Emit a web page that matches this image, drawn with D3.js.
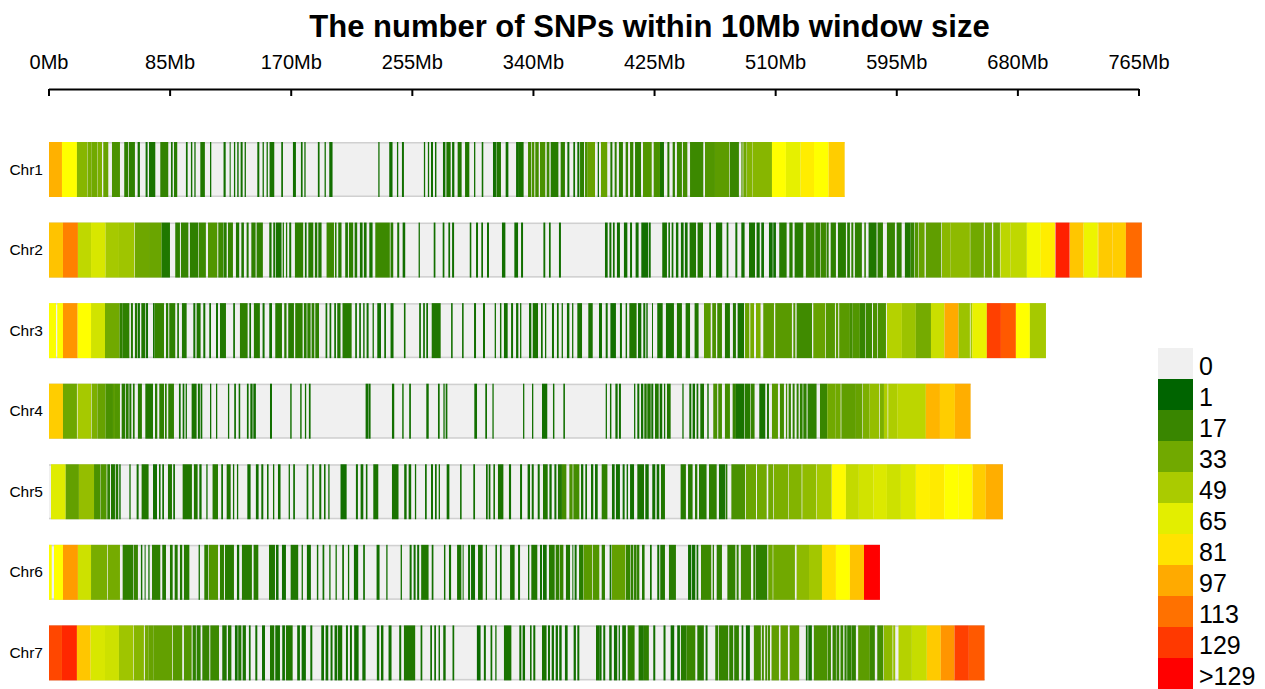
<!DOCTYPE html>
<html><head><meta charset="utf-8">
<script src="https://cdn.jsdelivr.net/npm/d3@7/dist/d3.min.js"></script>
<style>html,body{margin:0;padding:0;background:#fff}svg{display:block}text{font-family:"Liberation Sans",Arial,sans-serif;fill:#000}</style>
</head><body><svg id="c" width="1265" height="689"></svg>
<script>
const chartTitle="The number of SNPs within 10Mb window size";
const chromosomes=["Chr1","Chr2","Chr3","Chr4","Chr5","Chr6","Chr7"];
const chrLengths=[558.4,767,699.7,646.8,669.5,583.2,656.6];
const tickValues=[0,85,170,255,340,425,510,595,680,765];
const legendLabels=["0","1","17","33","49","65","81","97","113","129",">129"];
const legendCounts=[0,1,17,33,49,65,81,97,113,129,145];
// Each entry: [start Mb, end Mb, SNP count]
const chr1=[[0,9.1,95],[9.1,19.6,73],[19.6,26.9,39],[27.1,29.9,35],[29.9,33.9,33],[34.1,37.2,36],[38.1,41.6,30],[44.2,49.8,22],[52.8,55.6,14],[56.1,60.3,14],[62.2,63.8,8],[67.8,69.2,6],[70.2,74.6,8],[78.1,83.7,15],[85.6,86.8,8],[87.7,90,12],[96.1,97.3,6],[99.6,100.6,6],[102,102.9,6],[106.2,109.4,10],[113,113.9,6],[122.5,124,6],[126.8,127.5,6],[129.8,130.7,6],[132.1,133.1,6],[134.5,135.9,6],[137.3,138.2,6],[146.2,147.6,6],[149.9,150.8,6],[152.7,153.6,6],[154.8,158.1,8],[163,164.2,6],[171.2,173.3,6],[176.8,178,6],[179.2,180.1,6],[188.7,189.9,6],[193.4,194.3,6],[196.7,199,6],[231.1,232,6],[238.8,241.1,6],[244.2,245.1,6],[247.7,249.1,6],[263.1,264,6],[265.9,266.8,6],[268.1,269.5,6],[270.9,271.9,6],[276.5,278.2,6],[278.9,281.9,10],[282.9,284.5,6],[286.8,289.6,10],[292,295,10],[298.3,299.2,6],[303.7,304.8,6],[311.6,313.7,6],[314,317.2,10],[320.5,322.4,6],[327.8,329.2,6],[329.2,333.1,8],[336.2,338.5,20],[339,340.6,22],[341.3,343.7,20],[344.6,348.3,22],[349.3,351.2,18],[352.1,357.5,12],[359.1,362.1,14],[363.8,365.2,6],[368,369.2,6],[370.8,372.2,6],[372.7,375.5,14],[376.2,378.1,22],[378.1,383.2,30],[385.1,386,6],[387.4,391.8,30],[394,395.4,10],[397,398.4,14],[400,402.8,14],[404.7,406.4,16],[407.8,410.1,16],[411.3,415.5,14],[416.9,423,24],[424.4,428.8,22],[428.8,431.6,8],[434,435.4,12],[437.7,439.3,14],[440.7,444.2,18],[444.9,448,20],[449.9,459.2,18],[460.4,467.4,24],[467.4,477.5,27],[477.9,484.2,17],[485.9,486.8,25],[487.3,489.6,32],[489.9,493.6,38],[493.8,507.4,39],[507.4,517.2,73],[517.2,527.5,66],[527.5,536.9,78],[536.9,547.2,73],[547.2,558.4,87]];
const chr2=[[0,9.8,90],[9.8,20.3,109],[20.3,29.5,55],[29.5,39.7,62],[39.7,49.1,48],[49.1,59.9,46],[60.3,70.2,32],[70.2,79,31],[79,84.9,10],[88.6,91.9,14],[92.6,97.8,16],[98.9,104.8,14],[105.2,110.1,18],[111.6,118.1,24],[118.8,122.3,18],[122.5,124.7,12],[125.6,129.1,16],[131.2,133.5,10],[135,136.8,10],[138.7,140.1,10],[142,145,14],[145.7,150.1,14],[154.6,156.2,8],[157.4,158.8,8],[159.3,163.2,8],[164,164.9,10],[166.3,167.2,10],[168.6,170,8],[172.6,178.4,14],[179.6,180.8,6],[182,185.5,12],[186.6,188.3,10],[189,191.3,10],[194.8,200,18],[200.7,201.8,12],[203,205.3,12],[207.9,209.8,10],[210.5,213.5,14],[214.5,216.3,10],[218.2,220.1,8],[221,222.9,8],[224.8,227.1,8],[229,239.2,18],[239.7,241.6,12],[244.4,245.8,8],[248.2,250,6],[259.4,260.3,6],[270,271.2,6],[276.3,277.5,6],[280.3,281.5,6],[282.9,284.3,6],[295.3,296.4,6],[299.7,301.1,6],[303.4,304.6,6],[307.4,308.8,6],[317.9,320.3,6],[326.6,329.2,6],[331.3,332.7,6],[347,348.3,6],[350.9,352.1,6],[357.9,359.3,6],[390.2,392.1,6],[393.3,394.7,6],[395.8,397,6],[398.6,400.7,6],[403.5,405.9,6],[407.8,409.2,6],[411.7,413.8,6],[415.7,420.4,6],[420.9,422.3,6],[430.4,433.7,8],[434.7,435.8,6],[437,438.2,6],[440,441.7,6],[443.5,445.4,6],[446.3,448.2,6],[449.6,454.1,10],[455.2,459,10],[463.4,464.6,6],[468.1,472.5,8],[475.6,476.8,6],[481.7,483.1,6],[485.9,488.2,6],[491.3,495.5,8],[496.6,498.8,6],[499.9,501.8,6],[505.3,507.9,6],[508.3,510.2,6],[512.5,517.7,12],[519.6,521.9,12],[523.3,529.4,12],[531.2,537.3,16],[537.8,541.1,14],[541.5,545.3,18],[545.7,547.2,14],[548.6,552.3,14],[553.7,559.3,12],[560.2,562.1,12],[563.1,564.5,14],[565.6,570.5,14],[572.2,573.3,14],[575.2,580.8,10],[581.5,585.3,14],[588.1,593.7,16],[594.9,598.4,14],[600.7,604.7,10],[604.7,607.3,16],[607.7,610.1,24],[610.5,614.5,30],[615.4,626.2,28],[626.7,632.8,40],[632.8,646.3,41],[646.6,656.1,33],[656.8,661.8,33],[662.7,667.4,33],[667.8,674.9,54],[674.9,686.3,55],[686.3,696.1,70],[696.1,706,78],[706.4,716.3,136],[716.5,726.1,89],[726.1,736.1,68],[736.4,746.4,88],[746.4,755.8,87],[755.8,767,115]];
const chr3=[[0,4.9,72],[5.8,9.8,73],[9.8,20.1,103],[20.1,29.5,73],[29.5,39.3,60],[39.3,49.6,33],[49.6,51.7,14],[51.7,56.4,14],[57.5,58.9,10],[60.3,62,10],[62.4,63.8,6],[64.8,67.6,10],[68.1,69.5,6],[73,74.1,6],[74.1,80.7,16],[82.1,83.7,12],[84.4,88.6,14],[90,91.2,10],[93.3,96.6,10],[101.3,102.7,6],[103.6,106.4,10],[108.3,109.7,6],[112.5,113.7,6],[117.2,118.6,6],[120,124.2,10],[129.3,130.5,6],[134,139.4,14],[140.6,141.8,6],[143.8,148,12],[149.9,151.3,6],[154.6,156.5,6],[158.8,163.5,12],[165.1,166.7,12],[167.9,171.9,12],[172.8,178,14],[178.9,180.8,12],[181.3,183.6,14],[184.3,186.2,14],[186.9,189.5,14],[194.1,195.3,6],[196.9,198.1,6],[200.2,201.4,6],[202.3,204.6,10],[206,212.4,12],[214.9,216.1,6],[217.7,218.9,6],[220.5,221.5,6],[222.9,224.3,6],[227.1,228,6],[230.4,233,6],[235.3,236.5,6],[239.7,241.8,6],[249.1,250.2,6],[259.8,261,6],[262.6,263.8,6],[264.8,266,6],[268.6,274.9,10],[282.2,283.3,6],[289.9,291,6],[298.3,299.7,6],[304.6,306,6],[312.8,313.7,6],[316.5,317.5,6],[319.3,321.9,6],[324.3,325.7,6],[327.8,329.4,6],[330.6,331.5,6],[336.9,338.5,6],[339.5,343.2,8],[345.3,346.5,6],[348.1,349,6],[353,354.4,6],[356.5,357.7,6],[359.8,360.7,6],[363.5,365.2,6],[367.1,368,6],[370.8,374.1,8],[378.5,381.6,8],[386,388.1,6],[390.7,392.1,6],[394,397.9,6],[400.7,402.1,6],[404.7,405.7,6],[407.3,412.4,10],[413.4,415.7,6],[417.1,418.5,6],[419.2,420.2,6],[423.2,423.9,6],[426.9,430.7,8],[433,438.6,8],[440.7,444.2,10],[446.8,449.9,10],[453.1,455.9,10],[459.7,464.4,26],[465.5,468.1,22],[469,472.3,18],[474.4,477.9,10],[480,482.1,10],[483.3,487.8,8],[488.5,491.5,30],[492.2,494.8,34],[496.2,499.4,36],[501.3,508.8,27],[509.7,521.4,26],[522.4,523.8,24],[524.7,535.5,19],[536.4,544.8,30],[545.3,551.6,25],[552.3,553.9,26],[554.6,562.1,26],[562.1,564,20],[564,569.1,24],[569.1,572.9,16],[573.3,577.6,18],[578.3,581.3,22],[581.8,587.4,22],[588.1,598.6,52],[598.6,608.4,45],[608.4,619,34],[619,628.5,58],[628.5,638.4,97],[638.4,646.3,45],[646.8,648,48],[648,658.2,67],[658.2,668.1,127],[668.1,678.6,120],[678.6,688.4,73],[688.4,699.7,48]];
const chr4=[[0,9.8,87],[9.8,19.6,32],[20.1,29.5,48],[29.9,33.7,36],[33.9,39.7,30],[39.7,44.9,22],[44.9,46.3,26],[46.3,49.8,24],[51,53.5,12],[54,55.9,12],[56.4,57.8,10],[58.9,60.1,10],[62.4,65.2,12],[67.6,73,10],[74.4,76,12],[77.4,80.7,14],[81.4,82.6,12],[83.7,87.7,14],[91.2,92.4,6],[93.8,95,6],[95.9,96.8,6],[100.1,103.6,8],[104.5,105.9,6],[106.4,107.6,6],[113,113.9,6],[117.2,118.1,6],[125.6,126.5,6],[130,131.2,6],[133.1,134.2,6],[138.9,140.1,6],[141.3,142.9,6],[143.4,145.2,6],[155.1,156.5,6],[169.3,170.3,6],[176.3,177.3,6],[179.6,180.5,6],[182.4,183.6,6],[222.2,224.1,6],[224.3,225.7,6],[240.7,242.3,6],[247.9,248.9,6],[252.8,254,6],[264.8,266.5,6],[273,274.2,6],[276.8,277.7,6],[278.4,279.6,6],[298.5,300.4,6],[306.2,307.4,6],[311.2,312.1,6],[332.7,333.6,6],[339,339.9,6],[346,349.7,6],[353.7,354.7,6],[361,362.1,6],[390.7,391.6,6],[393.7,394.7,6],[397.5,399.1,6],[400,401.4,6],[410.6,411.5,6],[412.9,414.3,6],[415.5,417.1,6],[417.8,419.5,10],[419.9,422.3,10],[422.7,424.1,6],[425.3,427.9,10],[428.6,430.4,6],[431.6,432.5,6],[433.7,436.3,10],[444.5,445.4,6],[449.4,450.8,6],[451.7,453.4,6],[454.5,455.7,6],[457.1,459.7,8],[462,463,6],[466.2,469,22],[469.7,472.3,20],[474.4,477.9,20],[479.8,482.1,16],[482.1,487.8,8],[488.2,492,12],[492.4,495.2,16],[498.5,502.7,8],[503.9,505.3,10],[507.4,511.6,26],[513,515.8,20],[517.2,518.1,20],[519.1,520.7,16],[521.9,523.3,14],[524.7,526.1,14],[527,528.9,14],[529.4,531.7,14],[532.4,538.7,14],[541.1,546.2,17],[546.2,552.1,33],[552.1,555.6,33],[556.1,566.3,28],[566.3,570.8,30],[571.2,575.9,36],[575.9,582.7,43],[583.2,586,36],[586,588.5,50],[589,595.3,50],[595.3,615.4,54],[615.4,625.3,94],[625.3,635.8,87],[635.8,646.8,96]];
const chr5=[[1.4,11.7,64],[11.7,21,29],[21,31.6,43],[31.6,36.2,22],[36.5,40.4,24],[40.9,42.8,14],[43.5,46.3,10],[46.8,48.6,10],[49.3,50.3,6],[56.4,57.3,6],[61.5,62.9,6],[65,69.9,10],[73,75.8,6],[77.2,78.3,6],[79.5,80.7,6],[83.5,86.3,10],[87.2,88.4,6],[93.8,100.3,10],[101.7,104.3,10],[105.5,107.1,6],[110.4,111.3,6],[114.8,118.6,12],[120.9,122.1,6],[124.7,127.5,10],[129.1,130,6],[131.9,132.8,6],[139.2,141.5,6],[145.2,147.1,6],[149,150.4,6],[153,154.1,6],[157.2,158.1,6],[160.7,162.5,6],[168.2,169.1,6],[171.4,172.6,6],[180.8,182,6],[184.8,185.9,6],[189.7,191.1,6],[193,194.1,6],[196,196.9,6],[204.6,208.9,6],[215.4,216.8,6],[218.7,220.6,6],[222.4,223.5,6],[227.6,231.1,8],[240.7,245.3,8],[249.3,251,6],[252.4,254.2,6],[256.8,257.7,6],[263.9,265.1,6],[268.1,269.5,6],[270.9,272.1,6],[273.5,274.4,6],[279.1,281,6],[288.5,289.6,6],[297.8,299,6],[306.7,307.9,6],[308.6,309.8,6],[311.9,313,6],[315.1,318.9,8],[322.8,324.3,6],[330.6,332,6],[335.9,337.6,6],[338.8,340.2,6],[343,344.4,6],[346.7,350,10],[351.2,352.8,6],[354.7,356.1,6],[357.2,360,10],[360,363.1,20],[365.2,367.5,22],[368,372.2,20],[373.4,375,6],[376.4,377.6,6],[380.4,382,6],[383.2,385.1,6],[387.9,391.9,14],[395.1,397,6],[397.9,400.7,6],[402.6,404,6],[405.4,406.4,6],[407.8,410.6,6],[412.9,417.6,8],[418.5,420.9,6],[423.4,425.5,6],[426.5,428.3,6],[429.5,432.3,10],[443.3,447,12],[448.5,451.7,12],[453.4,455,12],[456.2,461.5,12],[463.2,468.6,14],[470.2,474.7,8],[475.1,476.1,12],[478.9,488.5,22],[489.1,496.2,31],[496.9,503.7,33],[504.8,508.3,33],[508.8,518.9,36],[519.3,528.2,38],[528.7,538.3,42],[538.7,549.3,48],[549.5,559.3,74],[559.3,568.4,56],[568.4,578.5,60],[578.5,588.1,63],[588.1,597.9,59],[597.9,608.4,63],[608.4,618.3,77],[618.3,628.3,79],[628.3,638.1,73],[638.1,648.2,74],[648.2,657.5,87],[657.5,669.5,96]];
const chr6=[[0,1.9,72],[3.5,9.8,73],[9.8,20.3,101],[20.3,29.5,59],[29.5,40.9,35],[41.4,49.8,34],[51.7,59.2,14],[59.6,62.4,16],[64.5,65.5,6],[67.1,67.8,6],[69.7,70.6,6],[72.3,78.1,14],[79.5,82.1,10],[84.9,86.8,10],[88.2,90.3,10],[91.9,93.5,10],[94.7,98.5,12],[105,105.9,6],[109,111.8,14],[112.3,118.6,24],[120,122.8,14],[123.5,129.8,12],[131.9,133.5,6],[135.4,142.4,12],[143.6,146.9,12],[154.4,158.6,10],[159.3,161.1,6],[163.5,166.3,6],[169.6,174.9,10],[177.3,178.2,6],[181,183.8,6],[188,189,6],[192,193.2,6],[196.7,197.6,6],[201.1,202,6],[205.8,207,6],[209.8,210.7,6],[214,217,6],[220.5,221.7,6],[229.9,232,6],[236.7,237.6,6],[246.8,247.7,6],[253.1,254.5,6],[255.9,257.3,6],[258.4,259.8,6],[261.2,266.4,10],[268.6,269.8,6],[277.2,278.2,6],[280.7,282.2,6],[286.4,289.4,8],[290.3,291,6],[294.1,295.5,6],[296.2,299,6],[301.1,304.4,8],[306.5,307.4,6],[313.3,314.4,6],[316.5,317.7,6],[323.6,326.8,8],[329.2,330.6,6],[336.2,337.1,6],[338.5,342.7,10],[344.6,346,6],[346.7,349.3,6],[350.9,354.9,12],[355.6,358.2,14],[358.6,361,16],[362.8,365.7,10],[367.3,368,6],[368.9,370.3,6],[372,375,12],[375.2,381.1,26],[381.6,386.2,24],[387.9,390.2,14],[393.5,394.7,6],[395.1,404.5,29],[404.9,407.8,16],[408.2,410.1,14],[410.6,412.4,14],[412.7,414.3,14],[416.2,418,10],[421.8,423,6],[426.9,428.3,6],[429,432.3,10],[435.1,440,12],[448.5,450.8,6],[451.3,453.6,6],[454.5,455.7,6],[457.6,464.8,18],[465.8,466.7,12],[468.6,472.3,14],[476.1,481.7,15],[482.6,484,14],[485.6,492.7,19],[494.3,495.5,14],[495.9,504.1,14],[504.8,507.9,32],[508.3,523.5,33],[524.7,533.4,41],[533.4,542.5,47],[542.5,552.3,82],[552.3,562.1,73],[562.1,572,90],[572,583.2,145]];
const chr7=[[0,9.1,125],[9.1,19.6,134],[19.6,29.2,89],[29.2,39.3,62],[39.3,49.1,59],[49.1,59.2,46],[59.6,66.6,39],[67.3,69.7,33],[69.7,73.2,30],[73.2,86.5,29],[87,93.5,25],[94.7,100.1,24],[100.8,103.1,14],[103.6,106.4,14],[107.6,112.5,16],[113.2,119.3,18],[121.6,124.7,10],[125.6,128,10],[130.5,132.4,6],[132.8,135,10],[135.9,138.2,8],[140.3,141.5,6],[144.8,146.2,6],[149.5,151.6,6],[155.1,158.1,10],[158.8,162.1,8],[163.7,165.6,6],[166.3,171,10],[174.2,176.1,6],[177.3,180.3,6],[183.4,184.8,6],[191.1,193,6],[194.1,196,6],[197.6,199,6],[200.4,202.3,6],[202.8,205.8,8],[208.4,209.8,6],[211.2,212.6,6],[214.2,217.3,6],[219.9,222.2,6],[230.1,231.8,6],[233,234.7,6],[238.3,240.4,6],[245.8,247.2,6],[249.1,257,10],[260.8,262,6],[267.6,268.8,6],[270.4,271.6,6],[273.4,274.4,6],[276.7,278.4,6],[283.2,284.4,6],[300.3,302.9,4],[305.2,306.6,6],[309.9,311.1,6],[313.2,314.1,6],[319.3,324.5,8],[330.1,331.5,6],[332.4,334.1,6],[337.6,338.7,6],[339.9,341.3,6],[346,349.2,8],[350.2,351.6,6],[352.8,354.4,6],[355.6,357.2,6],[358.1,359.8,6],[362.1,364,6],[368.2,369.8,6],[370.8,372.2,6],[383.9,386.2,8],[386.2,387.8,6],[389,390.4,6],[393.2,394.9,6],[396.5,398.8,6],[399.8,400.7,6],[402.3,404.9,8],[406.1,411,14],[413.8,417.5,10],[417.5,421,14],[424.1,425.5,6],[431.3,432.7,6],[436.3,438.8,6],[440.9,442.8,6],[443.5,447.5,12],[447.5,453.6,17],[455,459.6,12],[460.8,462.2,6],[467.6,469.7,14],[470.2,476.7,16],[477.4,480.2,14],[480.9,484.2,14],[486.1,487.3,6],[489.1,491.9,6],[494.7,499.6,20],[500.3,501.7,20],[502.7,504.1,20],[504.6,506,20],[507.1,512.3,28],[513.4,518.6,28],[519.8,526.5,27],[531.2,532.4,6],[532.9,535.4,6],[536.8,546.4,22],[546.7,548.8,18],[549.9,552.3,16],[552.7,554.6,16],[555.5,557.4,16],[558.3,559.8,14],[560.2,563.3,14],[563.5,566.3,14],[567.9,576.1,27],[576.1,579.6,17],[581.3,585.5,20],[585.9,592,41],[592.5,593.9,44],[596.2,605.6,52],[605.6,616.1,57],[616.1,625.9,88],[625.9,635.5,103],[635.5,645.6,127],[645.6,656.6,120]];
const segments=[chr1,chr2,chr3,chr4,chr5,chr6,chr7];

const svg=d3.select("#c");
const x=d3.scaleLinear().domain([0,765]).range([49,1139]);
const y=d3.scalePoint().domain(chromosomes).range([142,625.4]);
const barH=55;
const color=d3.scaleLinear().domain([1,73,145]).range(["#006400","#ffff00","#ff0000"]).interpolate(d3.interpolateRgb);
const fillOf=c=>c===0?"#f0f0f0":color(c);

svg.append("text").attr("x",649.5).attr("y",37).attr("text-anchor","middle")
  .attr("font-size",31).attr("font-weight","bold").text(chartTitle);

const axis=d3.axisTop(x).tickValues(tickValues).tickFormat(d=>d+"Mb").tickSizeOuter(0).tickSizeInner(-7).tickPadding(20);
const ag=svg.append("g").attr("transform","translate(-0.5,89)").call(axis);
ag.selectAll("path,line").attr("stroke","#000").attr("stroke-width",2);
ag.selectAll("text").attr("font-size",20).attr("font-family",'"Liberation Sans",Arial,sans-serif');

chromosomes.forEach((name,i)=>{
  const g=svg.append("g");
  const top=y(name);
  g.append("text").attr("x",43).attr("y",top+barH/2+5).attr("text-anchor","end").attr("font-size",15.5).text(name);
  g.append("rect").attr("x",x(0)).attr("y",top).attr("width",x(chrLengths[i])-x(0)).attr("height",barH).attr("fill",fillOf(0));
  g.append("rect").attr("x",x(0)).attr("y",top).attr("width",x(chrLengths[i])-x(0)).attr("height",1.5).attr("fill","#d0d0d0");
  g.append("rect").attr("x",x(0)).attr("y",top+barH-1.5).attr("width",x(chrLengths[i])-x(0)).attr("height",1.5).attr("fill","#d0d0d0");
  g.selectAll("rect.s").data(segments[i]).join("rect").attr("class","s")
    .attr("x",d=>x(d[0])).attr("y",top).attr("width",d=>x(d[1])-x(d[0])).attr("height",barH)
    .attr("fill",d=>fillOf(d[2]));
});

const ly=d3.scaleBand().domain(legendLabels).range([348,689]);
const lg=svg.append("g");
lg.selectAll("rect").data(legendLabels).join("rect")
  .attr("x",1158).attr("width",35).attr("y",d=>ly(d)).attr("height",ly.bandwidth()+0.3)
  .attr("fill",(d,i)=>fillOf(legendCounts[i]));
lg.selectAll("text").data(legendLabels).join("text")
  .attr("x",1199).attr("y",d=>ly(d)+ly.bandwidth()-4).attr("font-size",25).text(d=>d);
</script></body></html>
